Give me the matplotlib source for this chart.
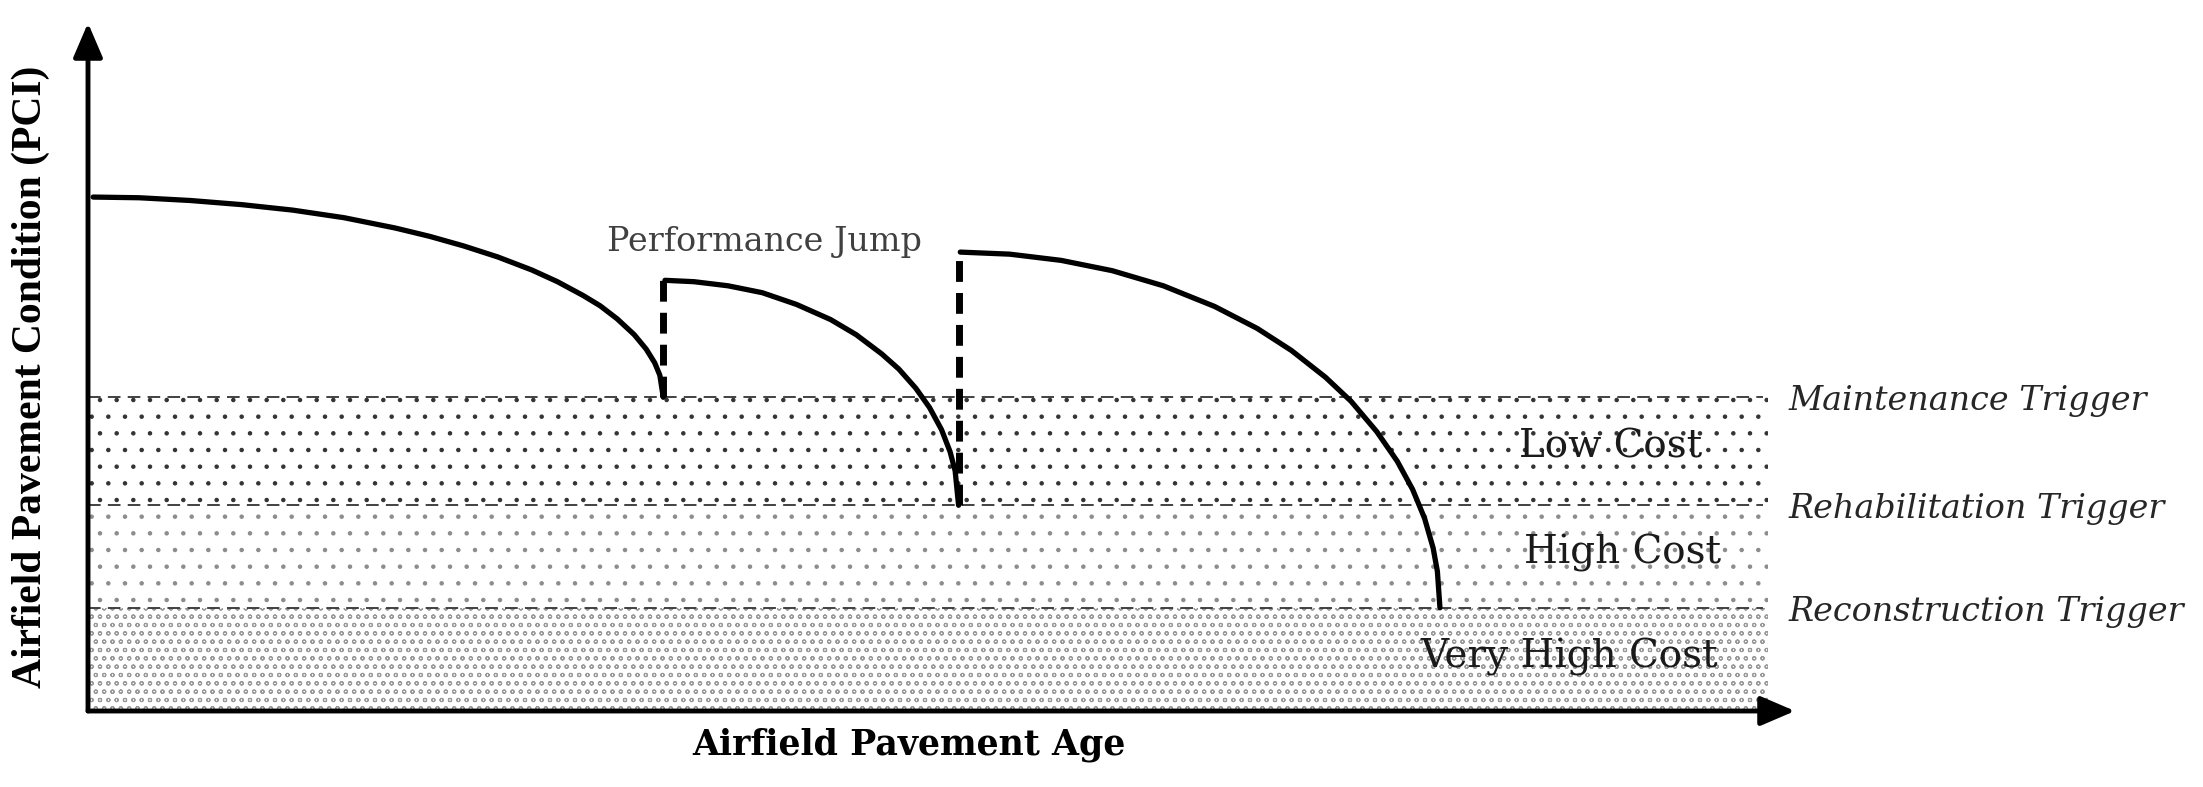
import matplotlib.pyplot as plt

# curves (age, PCI)
age_1 = [0.3, 3, 6, 9, 12, 15, 18, 20, 22, 24, 26, 27.5, 29, 30, 31, 32, 32.7, 33.2, 33.5, 33.7]
pci_1 = [74.7, 74.6, 74.2, 73.6, 72.8, 71.7, 70.2, 69.0, 67.6, 66.0, 64.1, 62.4, 60.4, 58.9,
         57.0, 54.7, 52.6, 50.6, 48.8, 45.6]

age_2 = [33.8, 35.5, 37.5, 39.5, 41.5, 43.5, 45, 46.5, 47.5, 48.5, 49.3, 50, 50.5, 50.8, 51.0]
pci_2 = [62.6, 62.4, 61.8, 60.8, 59.1, 56.9, 54.7, 51.9, 49.7, 46.9, 44.1, 40.9, 37.7, 34.9, 29.9]

age_3 = [51.1, 54, 57, 60, 63, 66, 68.5, 70.5, 72.5, 74, 75.5, 76.7, 77.6, 78.3, 78.8, 79.05, 79.2]
pci_3 = [66.7, 66.4, 65.5, 64.0, 61.8, 58.8, 55.6, 52.4, 48.5, 45.0, 40.6, 36.3, 32.2, 28.0,
         23.7, 20.3, 15.0]

# performance jumps (age, from PCI, to PCI)
jump_age = [33.7, 51.0]
jump_from = [45.6, 29.9]
jump_to = [62.6, 66.7]

# trigger levels
trigger_names = ["Maintenance Trigger", "Rehabilitation Trigger", "Reconstruction Trigger"]
trigger_pci = [45.6, 30.0, 15.0]
cost_names = ["Low Cost", "High Cost", "Very High Cost"]
cost_pos = [(89.2, 38.3), (89.9, 22.9), (86.8, 7.8)]
zone_end = 98.4

plt.rcParams['hatch.linewidth'] = 0.8

fig = plt.figure(figsize=(22.03, 7.87), dpi=100)
ax = fig.add_axes([88 / 2203, 1 - 711 / 787, 1707 / 2203, 688 / 787])
ax.set_xlim(0, 100)
ax.set_ylim(0, 100)
ax.axis('off')

# cost zones
bounds = [0] + trigger_pci[::-1]
hatches = ['oo', '.', '.']
hcolors = ['0.6', '0.55', '0.2']
for i in range(3):
    ax.fill_between([0, zone_end], bounds[i], bounds[i + 1], facecolor='white',
                    edgecolor=hcolors[i], linewidth=0, hatch=hatches[i], zorder=1)

for name, y in zip(trigger_names, trigger_pci):
    ax.plot([0, zone_end - 0.3], [y, y], color='0.2', lw=1.3, ls=(0, (7, 4)), zorder=2)
    ax.text(99.6, y - 0.6, name, family='DejaVu Serif', style='italic', fontsize=24,
            color='0.15', va='center', ha='left', clip_on=False)

for name, (x, y) in zip(cost_names, cost_pos):
    ax.text(x, y, name, family='DejaVu Serif', fontsize=28, color='0.1',
            ha='center', va='center', zorder=3)

# deterioration curves
for a, p in [(age_1, pci_1), (age_2, pci_2), (age_3, pci_3)]:
    ax.plot(a, p, color='black', lw=3.8, solid_capstyle='round', solid_joinstyle='round', zorder=4)
for a, lo, hi in zip(jump_age, jump_from, jump_to):
    ax.plot([a, a], [lo, hi], color='black', lw=5, ls=(0, (3, 1.6)), zorder=4)

ax.text(39.6, 68.2, "Performance Jump", family='DejaVu Serif', fontsize=24,
        color='0.25', ha='center', va='center')

# axes as arrows
arrow = dict(arrowstyle='-|>,head_length=0.7,head_width=0.3', lw=3.5, color='black',
             mutation_scale=30, shrinkA=0, shrinkB=0)
ax.annotate('', xy=(1, 0), xytext=(0, 0), xycoords='axes fraction', arrowprops=arrow)
ax.annotate('', xy=(0, 1), xytext=(0, 0), xycoords='axes fraction', arrowprops=arrow)

fig.text(909 / 2203, 1 - 745 / 787, "Airfield Pavement Age", family='DejaVu Serif',
         weight='bold', fontsize=25, ha='center', va='center')
fig.text(31 / 2203, 1 - 377 / 787, "Airfield Pavement Condition (PCI)", family='Liberation Serif',
         weight='bold', fontsize=30, rotation=90, ha='center', va='center')

fig.savefig('out.png', dpi=100)
